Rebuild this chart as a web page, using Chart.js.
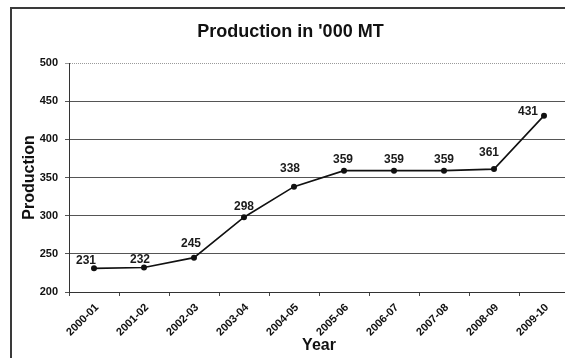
<!DOCTYPE html>
<html>
<head>
<meta charset="utf-8">
<script src="https://cdn.jsdelivr.net/npm/chart.js@4/dist/chart.umd.min.js"></script>
<style>
  html, body { margin: 0; padding: 0; background: #fff; overflow: hidden; width: 565px; height: 358px; }
  #frame { position: absolute; left: 10px; top: 7px; border: 2px solid #3a3a3a; background: #fff; width: 564px; height: 360px; }
  canvas { display: block; }
</style>
</head>
<body>
<div id="frame"><canvas id="chart" width="564" height="360"></canvas></div>
<script>
// Production figures by financial year ('000 MT)
const years = ['2000-01', '2001-02', '2002-03', '2003-04', '2004-05',
               '2005-06', '2006-07', '2007-08', '2008-09', '2009-10'];
const production = [231, 232, 245, 298, 338, 359, 359, 359, 361, 431];
const yTicks = [200, 250, 300, 350, 400, 450, 500];

// Where each value label sits relative to its point (dx, dy in px)
const labelNudge = [[-8, -8], [-4, -8], [-3, -14], [0, -11], [-4, -18],
                    [-1, -11], [0, -11], [0, -11], [-5, -16], [-16, -4]];

const FONT = 'Arial, "Liberation Sans", sans-serif';

const valueLabels = {
  id: 'valueLabels',
  afterDatasetsDraw(chart) {
    const meta = chart.getDatasetMeta(0);
    const ctx = chart.ctx;
    ctx.save();
    ctx.font = 'bold 12px ' + FONT;
    ctx.fillStyle = '#1a1a1a';
    ctx.textAlign = 'center';
    ctx.textBaseline = 'middle';
    meta.data.forEach((pt, i) => {
      const [dx, dy] = labelNudge[i];
      ctx.fillText(String(production[i]), pt.x + dx, pt.y + dy);
    });
    ctx.restore();
  }
};

new Chart(document.getElementById('chart'), {
  type: 'line',
  data: {
    labels: years,
    datasets: [{
      data: production,
      borderColor: '#111',
      borderWidth: 1.6,
      pointRadius: 2.2,
      pointBackgroundColor: '#111',
      pointBorderColor: '#111',
      tension: 0
    }]
  },
  options: {
    responsive: false,
    animation: false,
    devicePixelRatio: 1,
    layout: { padding: { left: 0, right: 7, top: 0, bottom: 12 } },
    plugins: {
      legend: { display: false },
      tooltip: { enabled: false },
      title: {
        display: true,
        text: "Production in '000 MT",
        color: '#111',
        font: { family: FONT, size: 18, weight: 'bold' },
        padding: { top: 12, bottom: 20.4 }
      }
    },
    scales: {
      x: {
        type: 'category',
        offset: true,
        afterFit: (s) => { s.height = 65; },
        grid: { display: true, offset: true, drawOnChartArea: false, drawTicks: true, tickLength: 4, color: '#444' },
        border: { display: true, color: '#333', width: 1 },
        ticks: {
          autoSkip: false, minRotation: 45, maxRotation: 45, padding: 5, labelOffset: 3,
          color: '#111', font: { family: FONT, size: 11, weight: 'bold' }
        },
        title: {
          display: true, text: 'Year', color: '#111',
          font: { family: FONT, size: 16, weight: 'bold' },
          padding: { top: 0, bottom: 2 }
        }
      },
      y: {
        min: 200, max: 500,
        afterFit: (s) => { s.width = 57; },
        afterBuildTicks: (s) => { s.ticks = yTicks.map(v => ({ value: v })); },
        grid: {
          color: (c) => (c.tick && c.tick.value === 500) ? '#9a9a9a' : '#555',
          lineWidth: 1, tickLength: 4, drawTicks: true
        },
        border: {
          display: true, color: '#333', width: 1,
          dash: (c) => (c.tick && c.tick.value === 500) ? [1, 1] : []
        },
        ticks: {
          padding: 7, color: '#111',
          font: { family: FONT, size: 11, weight: 'bold' }
        },
        title: {
          display: true, text: 'Production', color: '#111',
          font: { family: FONT, size: 16, weight: 'bold' },
          padding: { top: 8, bottom: 0 }
        }
      }
    }
  },
  plugins: [valueLabels]
});
</script>
</body>
</html>
